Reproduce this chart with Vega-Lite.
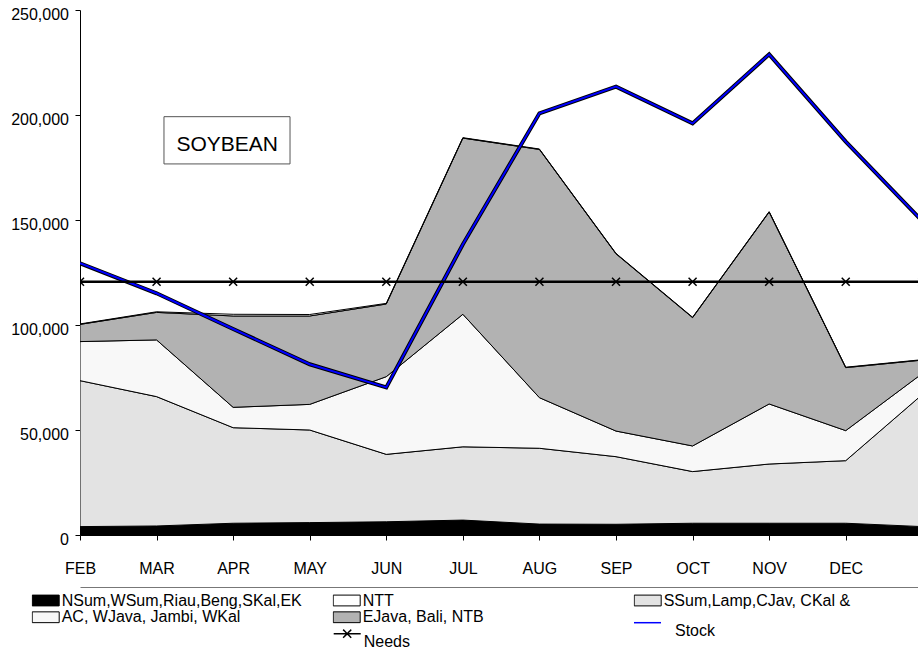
{
  "$schema": "https://vega.github.io/schema/vega-lite/v6.json",
  "width": 838,
  "height": 525,
  "autosize": {"type": "none"},
  "padding": {"left": 80, "top": 10, "right": 0, "bottom": 129},
  "background": "white",
  "config": {
    "view": {"stroke": null},
    "font": "Liberation Sans",
    "axis": {"labelFont": "Liberation Sans", "labelFontSize": 16, "labelColor": "#000", "domainColor": "#000", "tickColor": "#000", "tickSize": 5, "grid": false, "title": null},
    "legend": {"padding": 0, "labelFont": "Liberation Sans", "labelFontSize": 16, "labelColor": "#000", "title": null, "labelLimit": 400}
  },
  "datasets": {
    "areas": [
      {"month": "FEB", "series": "NSum,WSum,Riau,Beng,SKal,EK", "value": 4000},
      {"month": "MAR", "series": "NSum,WSum,Riau,Beng,SKal,EK", "value": 4300},
      {"month": "APR", "series": "NSum,WSum,Riau,Beng,SKal,EK", "value": 5600},
      {"month": "MAY", "series": "NSum,WSum,Riau,Beng,SKal,EK", "value": 5900},
      {"month": "JUN", "series": "NSum,WSum,Riau,Beng,SKal,EK", "value": 6300},
      {"month": "JUL", "series": "NSum,WSum,Riau,Beng,SKal,EK", "value": 7100},
      {"month": "AUG", "series": "NSum,WSum,Riau,Beng,SKal,EK", "value": 5200},
      {"month": "SEP", "series": "NSum,WSum,Riau,Beng,SKal,EK", "value": 5100},
      {"month": "OCT", "series": "NSum,WSum,Riau,Beng,SKal,EK", "value": 5600},
      {"month": "NOV", "series": "NSum,WSum,Riau,Beng,SKal,EK", "value": 5600},
      {"month": "DEC", "series": "NSum,WSum,Riau,Beng,SKal,EK", "value": 5600},
      {"month": "JAN", "series": "NSum,WSum,Riau,Beng,SKal,EK", "value": 4000},
      {"month": "FEB", "series": "SSum,Lamp,CJav, CKal &", "value": 69500},
      {"month": "MAR", "series": "SSum,Lamp,CJav, CKal &", "value": 61600},
      {"month": "APR", "series": "SSum,Lamp,CJav, CKal &", "value": 45500},
      {"month": "MAY", "series": "SSum,Lamp,CJav, CKal &", "value": 44100},
      {"month": "JUN", "series": "SSum,Lamp,CJav, CKal &", "value": 32100},
      {"month": "JUL", "series": "SSum,Lamp,CJav, CKal &", "value": 34900},
      {"month": "AUG", "series": "SSum,Lamp,CJav, CKal &", "value": 36100},
      {"month": "SEP", "series": "SSum,Lamp,CJav, CKal &", "value": 32200},
      {"month": "OCT", "series": "SSum,Lamp,CJav, CKal &", "value": 24600},
      {"month": "NOV", "series": "SSum,Lamp,CJav, CKal &", "value": 28200},
      {"month": "DEC", "series": "SSum,Lamp,CJav, CKal &", "value": 29800},
      {"month": "JAN", "series": "SSum,Lamp,CJav, CKal &", "value": 62900},
      {"month": "FEB", "series": "AC, WJava, Jambi, WKal", "value": 18600},
      {"month": "MAR", "series": "AC, WJava, Jambi, WKal", "value": 27000},
      {"month": "APR", "series": "AC, WJava, Jambi, WKal", "value": 9700},
      {"month": "MAY", "series": "AC, WJava, Jambi, WKal", "value": 12200},
      {"month": "JUN", "series": "AC, WJava, Jambi, WKal", "value": 37000},
      {"month": "JUL", "series": "AC, WJava, Jambi, WKal", "value": 63100},
      {"month": "AUG", "series": "AC, WJava, Jambi, WKal", "value": 24100},
      {"month": "SEP", "series": "AC, WJava, Jambi, WKal", "value": 12200},
      {"month": "OCT", "series": "AC, WJava, Jambi, WKal", "value": 12200},
      {"month": "NOV", "series": "AC, WJava, Jambi, WKal", "value": 28600},
      {"month": "DEC", "series": "AC, WJava, Jambi, WKal", "value": 14300},
      {"month": "JAN", "series": "AC, WJava, Jambi, WKal", "value": 10000},
      {"month": "FEB", "series": "EJava, Bali, NTB", "value": 8200},
      {"month": "MAR", "series": "EJava, Bali, NTB", "value": 13100},
      {"month": "APR", "series": "EJava, Bali, NTB", "value": 43500},
      {"month": "MAY", "series": "EJava, Bali, NTB", "value": 42100},
      {"month": "JUN", "series": "EJava, Bali, NTB", "value": 34600},
      {"month": "JUL", "series": "EJava, Bali, NTB", "value": 83900},
      {"month": "AUG", "series": "EJava, Bali, NTB", "value": 118200},
      {"month": "SEP", "series": "EJava, Bali, NTB", "value": 84400},
      {"month": "OCT", "series": "EJava, Bali, NTB", "value": 61100},
      {"month": "NOV", "series": "EJava, Bali, NTB", "value": 91400},
      {"month": "DEC", "series": "EJava, Bali, NTB", "value": 30000},
      {"month": "JAN", "series": "EJava, Bali, NTB", "value": 6400},
      {"month": "FEB", "series": "NTT", "value": 200},
      {"month": "MAR", "series": "NTT", "value": 300},
      {"month": "APR", "series": "NTT", "value": 800},
      {"month": "MAY", "series": "NTT", "value": 700},
      {"month": "JUN", "series": "NTT", "value": 300},
      {"month": "JUL", "series": "NTT", "value": 200},
      {"month": "AUG", "series": "NTT", "value": 200},
      {"month": "SEP", "series": "NTT", "value": 200},
      {"month": "OCT", "series": "NTT", "value": 200},
      {"month": "NOV", "series": "NTT", "value": 200},
      {"month": "DEC", "series": "NTT", "value": 200},
      {"month": "JAN", "series": "NTT", "value": 200}
    ],
    "stock": [
      {"month": "FEB", "series": "Stock", "value": 129400},
      {"month": "MAR", "series": "Stock", "value": 115100},
      {"month": "APR", "series": "Stock", "value": 98100},
      {"month": "MAY", "series": "Stock", "value": 81300},
      {"month": "JUN", "series": "Stock", "value": 70300},
      {"month": "JUL", "series": "Stock", "value": 138400},
      {"month": "AUG", "series": "Stock", "value": 200800},
      {"month": "SEP", "series": "Stock", "value": 213500},
      {"month": "OCT", "series": "Stock", "value": 196000},
      {"month": "NOV", "series": "Stock", "value": 228900},
      {"month": "DEC", "series": "Stock", "value": 187300},
      {"month": "JAN", "series": "Stock", "value": 149500}
    ],
    "needs": [
      {"month": "FEB", "series": "Needs", "value": 120600},
      {"month": "MAR", "series": "Needs", "value": 120600},
      {"month": "APR", "series": "Needs", "value": 120600},
      {"month": "MAY", "series": "Needs", "value": 120600},
      {"month": "JUN", "series": "Needs", "value": 120600},
      {"month": "JUL", "series": "Needs", "value": 120600},
      {"month": "AUG", "series": "Needs", "value": 120600},
      {"month": "SEP", "series": "Needs", "value": 120600},
      {"month": "OCT", "series": "Needs", "value": 120600},
      {"month": "NOV", "series": "Needs", "value": 120600},
      {"month": "DEC", "series": "Needs", "value": 120600},
      {"month": "JAN", "series": "Needs", "value": 120600}
    ],
    "label": [{"text": "SOYBEAN"}]
  },
  "layer": [
    {
      "data": {"name": "areas"},
      "transform": [
        {"calculate": "indexof(['NSum,WSum,Riau,Beng,SKal,EK','SSum,Lamp,CJav, CKal &','AC, WJava, Jambi, WKal','EJava, Bali, NTB','NTT'], datum.series)", "as": "k"}
      ],
      "mark": {"type": "area", "stroke": "#000", "strokeWidth": 1, "clip": true, "interpolate": "linear", "opacity": 1, "fillOpacity": 1},
      "encoding": {
        "x": {"field": "month", "type": "ordinal",
          "scale": {"type": "point", "domain": ["FEB","MAR","APR","MAY","JUN","JUL","AUG","SEP","OCT","NOV","DEC","JAN"], "range": [0, 842.3], "padding": 0},
          "axis": {"values": ["FEB","MAR","APR","MAY","JUN","JUL","AUG","SEP","OCT","NOV","DEC"], "labelPadding": 20.5, "labelAngle": 0, "domain": true, "ticks": true}},
        "y": {"field": "value", "type": "quantitative", "stack": "zero",
          "scale": {"domain": [0, 250000], "nice": false, "zero": true},
          "axis": {"values": [0, 50000, 100000, 150000, 200000, 250000], "format": ",.0f", "labelPadding": 6.5, "labelOffset": 4}},
        "fill": {"field": "series", "type": "nominal",
          "scale": {"domain": ["NSum,WSum,Riau,Beng,SKal,EK", "AC, WJava, Jambi, WKal", "NTT", "EJava, Bali, NTB", "SSum,Lamp,CJav, CKal &"],
                    "range": ["#000000", "#f8f8f8", "#ffffff", "#b2b2b2", "#e3e3e3"]},
          "legend": {"orient": "none", "legendX": -48.3, "legendY": 582, "columns": 3, "gridAlign": "all", "columnPadding": 30, "rowPadding": 0, "clipHeight": 16.5,
            "symbolSize": 729, "symbolType": "M-1,-0.4H1V0.4H-1Z", "symbolStrokeColor": "#000", "symbolStrokeWidth": 1, "labelOffset": 2}},
        "order": {"field": "k", "type": "quantitative"}
      }
    },
    {
      "data": {"name": "stock"},
      "mark": {"type": "line", "color": "#000", "strokeWidth": 4, "clip": true},
      "encoding": {
        "x": {"field": "month", "type": "ordinal", "axis": null},
        "y": {"field": "value", "type": "quantitative", "axis": null}
      }
    },
    {
      "data": {"name": "stock"},
      "mark": {"type": "line", "strokeWidth": 2, "clip": true},
      "encoding": {
        "x": {"field": "month", "type": "ordinal", "axis": null},
        "y": {"field": "value", "type": "quantitative", "axis": null},
        "stroke": {"field": "series", "type": "nominal", "scale": {"domain": ["Stock"], "range": ["#0000ff"]},
          "legend": {"orient": "none", "legendX": 553, "legendY": 598.2, "symbolSize": 729, "symbolType": "stroke", "symbolStrokeWidth": 1.5,
            "labelOffset": 13, "labelBaseline": "top"}}
      }
    },
    {
      "data": {"name": "needs"},
      "mark": {"type": "line", "color": "#000", "strokeWidth": 2.5, "clip": true},
      "encoding": {
        "x": {"field": "month", "type": "ordinal", "axis": null},
        "y": {"field": "value", "type": "quantitative", "axis": null},
        "strokeDash": {"field": "series", "type": "nominal", "scale": {"domain": ["Needs"], "range": [[1, 0]]},
          "legend": {"orient": "none", "legendX": 252.7, "legendY": 609.2, "symbolSize": 729,
            "symbolType": "M-1,0H1M-0.3,-0.3L0.3,0.3M-0.3,0.3L0.3,-0.3", "symbolStrokeColor": "#000", "symbolStrokeWidth": 1.5, "labelOffset": 2, "labelBaseline": "top"}}
      }
    },
    {
      "data": {"name": "needs"},
      "mark": {"type": "point", "shape": "M-1,-1L1,1M-1,1L1,-1", "size": 64, "stroke": "#000", "strokeWidth": 1.5, "filled": false, "opacity": 1, "clip": true},
      "encoding": {
        "x": {"field": "month", "type": "ordinal", "axis": {"orient": "bottom", "offset": 52, "labels": false, "ticks": false, "domain": true, "domainColor": "#777777", "domainWidth": 1}},
        "y": {"field": "value", "type": "quantitative", "axis": null}
      }
    },
    {
      "mark": {"type": "rule", "color": "#000", "strokeWidth": 1},
      "encoding": {"y": {"datum": 250000, "type": "quantitative", "axis": null}}
    },
    {
      "data": {"name": "label"},
      "mark": {"type": "rect", "fill": "#ffffff", "stroke": "#555555", "strokeWidth": 1, "xOffset": 7.4, "x2Offset": -19.7},
      "encoding": {
        "x": {"datum": "MAR", "type": "ordinal", "axis": null},
        "x2": {"datum": "MAY"},
        "y": {"datum": 199200, "type": "quantitative", "axis": null},
        "y2": {"datum": 176700}
      }
    },
    {
      "data": {"name": "label"},
      "mark": {"type": "text", "fontSize": 21, "font": "Liberation Sans", "color": "#000", "baseline": "middle", "align": "center", "dx": -6},
      "encoding": {
        "x": {"datum": "APR", "type": "ordinal", "axis": null},
        "y": {"datum": 185700, "type": "quantitative", "axis": null},
        "text": {"field": "text"}
      }
    }
  ],
  "resolve": {"axis": {"x": "independent", "y": "independent"}}
}
